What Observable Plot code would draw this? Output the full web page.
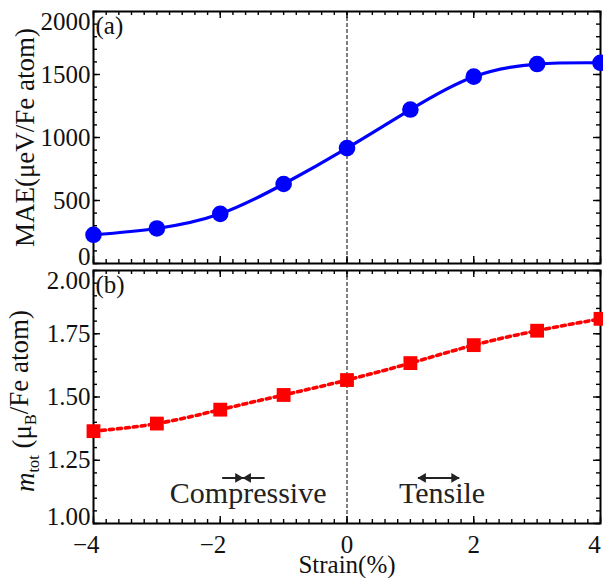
<!DOCTYPE html>
<html><head><meta charset="utf-8">
<script src="https://cdn.jsdelivr.net/npm/d3@7"></script>
<script src="https://cdn.jsdelivr.net/npm/@observablehq/plot@0.6"></script>
<style>
body{margin:0;background:#fff;}
#chart{width:603px;height:578px;}
#chart svg{display:block;overflow:visible;}
#chart svg text{font-family:"Liberation Serif","Times New Roman",serif !important;}
</style></head><body><div id="chart"></div>
<script>
// ---- data ----
const strain = [-4, -3, -2, -1, 0, 1, 2, 3, 4];
const mae = [228, 278, 394, 631, 916, 1222, 1483, 1583, 1593];
const mtot = [1.365, 1.395, 1.450, 1.508, 1.567, 1.634, 1.705, 1.762, 1.809];

const xTickValues = [-4, -2, 0, 2, 4];
const xTickLabels = ["\u22124", "\u22122", "0", "2", "4"];
const maeTickValues = [0, 500, 1000, 1500, 2000];
const maeTickLabels = ["0", "500", "1000", "1500", "2000"];
const mTickValues = [1.00, 1.25, 1.50, 1.75, 2.00];
const mTickLabels = ["1.00", "1.25", "1.50", "1.75", "2.00"];
const xMinorStep = 0.2, maeMinorStep = 100, mMinorStep = 0.05;

const regionLabels = [{x: -1.56, y: 1.083, text: "Compressive"}, {x: 1.50, y: 1.083, text: "Tensile"}];
const arrowShafts = [{x1: -1.97, x2: -1.30, y: 1.18}, {x1: 1.12, x2: 1.77, y: 1.18}];
const arrowHeads = [
  {x: -1.72, y: 1.18, dir: 90}, {x: -1.56, y: 1.18, dir: -90},
  {x: 1.20, y: 1.18, dir: -90}, {x: 1.69, y: 1.18, dir: 90}
];

// ---- helpers ----
const FONT = "'Liberation Serif', 'Times New Roman', serif";
const W = 603, ML = 93, MR = 3;
const innerW = W - ML - MR;
const range = (a, b, s) => { const out = []; const n = Math.round((b - a) / s); for (let i = 0; i <= n; i++) out.push(+(a + i * s).toFixed(6)); return out; };
const xMinor = range(-4, 4, xMinorStep);
const maeMinor = range(0, 2000, maeMinorStep);
const mMinor = range(1, 2, mMinorStep);
const xTicks = xTickValues.map((v, i) => ({v, label: xTickLabels[i]}));
const maeTicks = maeTickValues.map((v, i) => ({v, label: maeTickLabels[i]}));
const mTicks = mTickValues.map((v, i) => ({v, label: mTickLabels[i]}));
const rows = strain.map((s, i) => ({s, mae: mae[i], m: mtot[i]}));

function frameTicks(frameH, yMajor, yMinor) {
  const tk = {stroke: "#000", strokeWidth: 1.4};
  return [
    Plot.tickY(yMinor, {...tk, insetRight: innerW - 4}),
    Plot.tickY(yMinor, {...tk, insetLeft: innerW - 4}),
    Plot.tickY(yMajor, {...tk, insetRight: innerW - 7}),
    Plot.tickY(yMajor, {...tk, insetLeft: innerW - 7}),
    Plot.tickX(xMinor, {...tk, insetBottom: frameH - 4}),
    Plot.tickX(xMinor, {...tk, insetTop: frameH - 4}),
    Plot.tickX(xTickValues, {...tk, insetBottom: frameH - 7}),
    Plot.tickX(xTickValues, {...tk, insetTop: frameH - 7})
  ];
}
function yLabels(ticks, lo, hi) {
  const base = {y: "v", text: "label", frameAnchor: "left", textAnchor: "end", lineAnchor: "middle", dx: -3, fontSize: 25, fontFamily: FONT, fill: "#111"};
  return [
    Plot.text(ticks.filter(t => t.v > lo && t.v < hi), base),
    Plot.text(ticks.filter(t => t.v === hi), {...base, dy: 10}),
    Plot.text(ticks.filter(t => t.v === lo), {...base, dy: -7})
  ];
}
const axisTitle = {frameAnchor: "left", text: d => d, rotate: -90, dx: -68, textAnchor: "middle", lineAnchor: "middle", fontSize: 27, fontFamily: FONT, fill: "#111"};
const panelTag = {frameAnchor: "top-left", text: d => d, textAnchor: "start", lineAnchor: "top", dx: 2, dy: 5, fontSize: 25, fontFamily: FONT, fill: "#111"};

// ---- panel (a) ----
const topH = 266, topMT = 11, topMB = 3;
const topFrameH = topH - topMT - topMB;
const plotA = Plot.plot({
  width: W, height: topH, marginLeft: ML, marginRight: MR, marginTop: topMT, marginBottom: topMB,
  x: {domain: [-4, 4], axis: null},
  y: {domain: [0, 2000], axis: null},
  style: {fontFamily: FONT, background: "transparent", overflow: "visible"},
  marks: [
    Plot.ruleX([0], {stroke: "#000", strokeWidth: 1, strokeDasharray: "4,2"}),
    ...frameTicks(topFrameH, maeTickValues, maeMinor),
    Plot.frame({stroke: "#000", strokeWidth: 2}),
    Plot.line(rows, {x: "s", y: "mae", stroke: "#0000ff", strokeWidth: 3.2, curve: "natural"}),
    Plot.dot(rows, {x: "s", y: "mae", r: 8.3, fill: "#0000ff", stroke: "none"}),
    ...yLabels(maeTicks, 0, 2000),
    Plot.text(["(a)"], panelTag),
    Plot.text(["MAE(\u03bceV/Fe atom)"], axisTitle)
  ]
});

// ---- panel (b) ----
const botH = 578 - topH, botMT = 4, botMB = 55;
const botFrameH = botH - botMT - botMB;
const mLabelPlain = "mtot (\u03bcB/Fe atom)";
const xLab = {x: "v", text: "label", frameAnchor: "bottom", lineAnchor: "middle", dy: 21, fontSize: 25, fontFamily: FONT, fill: "#111"};
const plotB = Plot.plot({
  width: W, height: botH, marginLeft: ML, marginRight: MR, marginTop: botMT, marginBottom: botMB,
  x: {domain: [-4, 4], axis: null},
  y: {domain: [1, 2], axis: null},
  style: {fontFamily: FONT, background: "transparent", overflow: "visible"},
  marks: [
    Plot.ruleX([0], {stroke: "#000", strokeWidth: 1, strokeDasharray: "4,2"}),
    ...frameTicks(botFrameH, mTickValues, mMinor),
    Plot.frame({stroke: "#000", strokeWidth: 2}),
    Plot.line(rows, {x: "s", y: "m", stroke: "#ff0000", strokeWidth: 3.6, strokeDasharray: "4,4", curve: "natural"}),
    Plot.dot(rows, {x: "s", y: "m", r: 7.8, symbol: "square", fill: "#ff0000", stroke: "none"}),
    ...yLabels(mTicks, 1, 2),
    Plot.text(xTicks.filter(t => t.v < 0), {...xLab, textAnchor: "end", dx: 6}),
    Plot.text(xTicks.filter(t => t.v >= 0 && t.v < 4), {...xLab, textAnchor: "middle"}),
    Plot.text(xTicks.filter(t => t.v === 4), {...xLab, textAnchor: "middle", dx: -6}),
    Plot.text(["Strain(%)"], {frameAnchor: "bottom", text: d => d, textAnchor: "middle", lineAnchor: "middle", dy: 41, fontSize: 25, fontFamily: FONT, fill: "#111"}),
    Plot.text(regionLabels, {x: "x", y: "y", text: "text", lineAnchor: "bottom", fontSize: 30, fontFamily: FONT, fill: "#222"}),
    Plot.link(arrowShafts, {x1: "x1", x2: "x2", y1: "y", y2: "y", stroke: "#222", strokeWidth: 2}),
    Plot.dot(arrowHeads, {x: "x", y: "y", rotate: "dir", symbol: "triangle", r: 3.6, fill: "#222", stroke: "none"}),
    Plot.text(["(b)"], panelTag),
    Plot.text([mLabelPlain], {...axisTitle, dy: 4})
  ]
});

// rich formatting of the (b) y-axis label (italic m, subscripts)
const NS = "http://www.w3.org/2000/svg";
const lab = [...plotB.querySelectorAll("text")].find(t => t.textContent === mLabelPlain);
if (lab) {
  lab.textContent = "";
  const parts = [
    {t: "m", style: "italic"},
    {t: "tot", size: "0.6em", dy: "0.3em"},
    {t: " (\u03bc", dy: "-0.3em"},
    {t: "B", size: "0.6em", dy: "0.3em"},
    {t: "/Fe atom)", dy: "-0.3em"}
  ];
  for (const p of parts) {
    const ts = document.createElementNS(NS, "tspan");
    ts.textContent = p.t;
    if (p.style) ts.setAttribute("font-style", p.style);
    if (p.size) ts.setAttribute("font-size", p.size);
    if (p.dy) ts.setAttribute("dy", p.dy);
    lab.appendChild(ts);
  }
}

const chart = document.getElementById("chart");
chart.appendChild(plotA);
chart.appendChild(plotB);
</script>
</body></html>
